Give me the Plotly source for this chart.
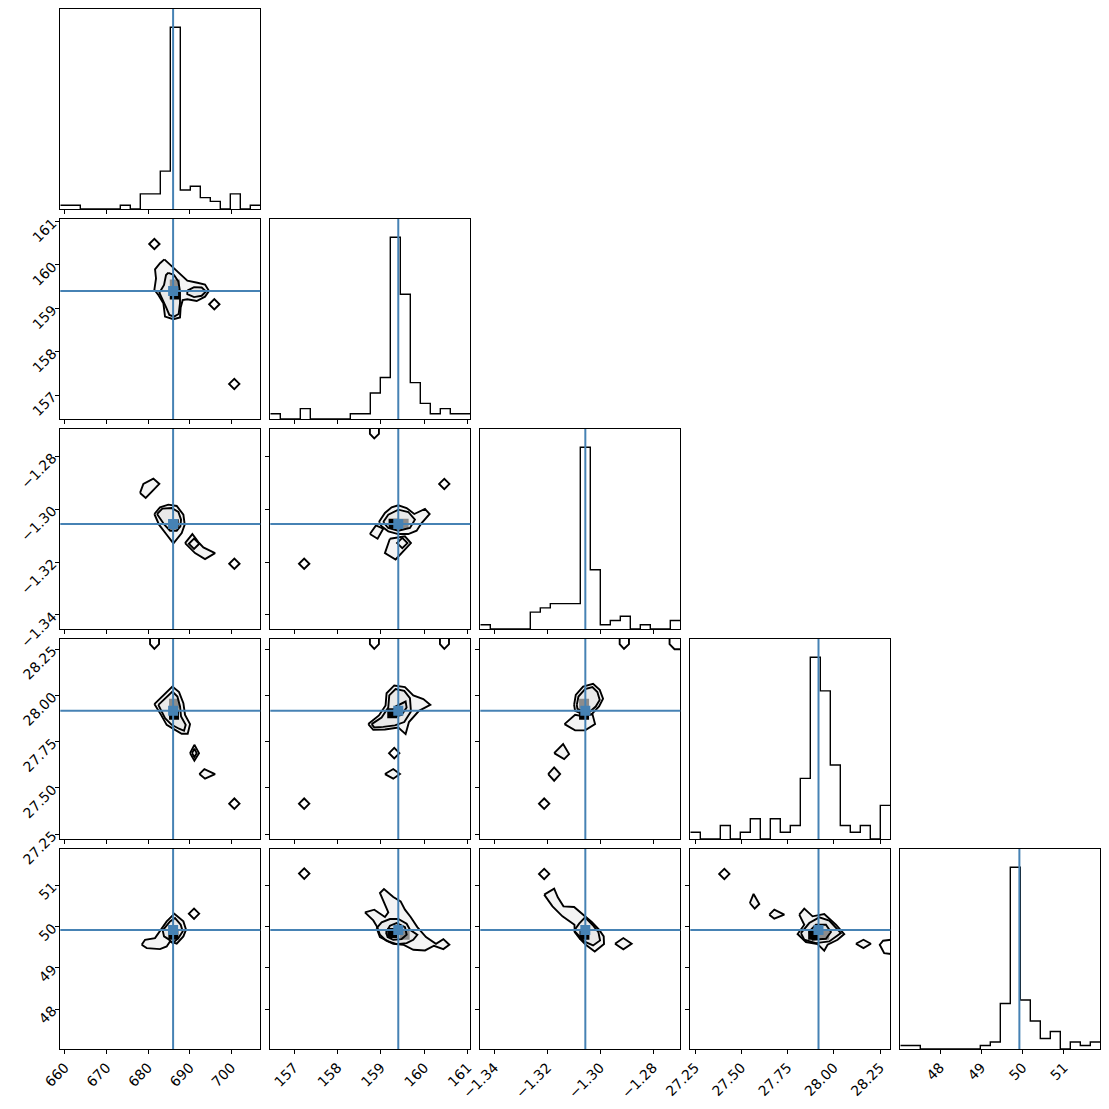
import numpy as np
import plotly.graph_objects as go

# ---------------- data ----------------
TRUTHS = [686.0, 159.40, -1.3056, 27.917, 49.92]
RANGES = [[658.9, 706.95], [156.45, 161.06], [-1.3453, -1.2697], [27.224, 28.305], [47.036, 51.88]]
TICKS = [[660, 670, 680, 690, 700],
         [157, 158, 159, 160, 161],
         [-1.34, -1.32, -1.30, -1.28],
         [27.25, 27.50, 27.75, 28.00, 28.25],
         [48, 49, 50, 51]]
TICKTEXT = [["660", "670", "680", "690", "700"],
            ["157", "158", "159", "160", "161"],
            ["\u22121.34", "\u22121.32", "\u22121.30", "\u22121.28"],
            ["27.25", "27.50", "27.75", "28.00", "28.25"],
            ["48", "49", "50", "51"]]

HIST_P0 = [1, 1, 0, 0, 0, 0, 1, 0, 4, 4, 10, 48, 5, 6, 3, 2, 0, 4, 0, 1]
HIST_P1 = [1, 0, 0, 2, 0, 0, 0, 0, 1, 1, 5, 8, 35, 24, 7, 3, 1, 2, 1, 1]
HIST_P2 = [1, 0, 0, 0, 0, 4, 5, 6, 6, 6, 43, 14, 1, 2, 3, 0, 1, 0, 0, 2]
HIST_P3 = [1, 0, 0, 2, 0, 1, 3, 0, 3, 1, 2, 9, 27, 22, 11, 2, 1, 2, 0, 5]
HIST_P4 = [1, 1, 0, 0, 0, 0, 0, 0, 1, 2, 13, 52, 14, 8, 3, 5, 0, 2, 1, 2]
HISTS = [HIST_P0, HIST_P1, HIST_P2, HIST_P3, HIST_P4]

# closed contour polygons per panel (row, col) -> x = param col, y = param row
CONT_1_0 = [
    [(683.90, 160.13), (686.22, 159.92), (687.66, 159.79), (689.42, 159.64), (691.83, 159.59), (693.67, 159.55),
     (694.63, 159.40), (693.67, 159.27), (691.67, 159.17), (689.42, 159.21), (688.30, 159.19), (687.82, 159.02),
     (687.66, 158.79), (686.06, 158.75), (684.06, 158.81), (683.66, 159.12), (682.46, 159.31), (681.50, 159.43),
     (681.90, 159.69), (681.66, 159.90), (682.86, 160.04)],
    [(684.86, 159.82), (686.22, 159.77), (687.26, 159.62), (687.66, 159.39), (687.66, 159.12), (687.34, 158.87),
     (686.22, 158.81), (685.10, 158.85), (684.30, 159.03), (683.50, 159.20), (682.70, 159.36), (683.82, 159.54),
     (684.30, 159.77)],
    [(689.42, 159.41), (691.03, 159.49), (692.86, 159.48), (693.91, 159.39), (692.86, 159.29), (691.03, 159.26),
     (689.42, 159.33)],
]
CONT_2_0 = [
    [(678.06, -1.29387), (678.86, -1.29046), (681.26, -1.28844), (682.70, -1.29046), (679.42, -1.29577)],
    [(681.50, -1.30183), (682.86, -1.29930), (684.86, -1.29829), (686.87, -1.29880), (688.47, -1.30208),
     (688.79, -1.30587), (688.07, -1.30903), (686.07, -1.31294), (684.47, -1.30966), (682.62, -1.30587)],
    [(682.14, -1.30183), (683.42, -1.29981), (685.67, -1.29955), (687.27, -1.30107), (687.91, -1.30398),
     (687.75, -1.30650), (686.87, -1.30814), (685.27, -1.30814), (683.90, -1.30587)],
    [(688.87, -1.31282), (690.63, -1.30941), (692.07, -1.31244), (693.27, -1.31446), (696.08, -1.31661),
     (693.67, -1.31888), (691.27, -1.31661)],
]
CONT_2_1 = [
    [(158.954, -1.30486), (159.092, -1.30145), (159.246, -1.29930), (159.400, -1.29855), (159.592, -1.29956),
     (159.769, -1.30183), (160.015, -1.29993), (160.123, -1.30183), (159.938, -1.30524), (159.823, -1.30814),
     (159.631, -1.30941), (159.400, -1.30941), (159.169, -1.30840), (159.015, -1.30650)],
    [(159.053, -1.30486), (159.169, -1.30208), (159.400, -1.30019), (159.631, -1.30107), (159.784, -1.30398),
     (159.669, -1.30713), (159.400, -1.30814), (159.169, -1.30713)],
    [(158.746, -1.30941), (158.885, -1.30612), (159.053, -1.30738), (158.923, -1.31117)],
    [(159.207, -1.31117), (159.092, -1.31661), (159.338, -1.31901), (159.692, -1.31281), (159.553, -1.31029)],
]
CONT_3_0 = [
    [(681.50, 27.953), (683.66, 28.003), (685.83, 28.048), (687.43, 28.018), (688.47, 27.958), (688.87, 27.895),
     (690.07, 27.845), (689.51, 27.793), (688.07, 27.793), (686.47, 27.814), (684.46, 27.841), (683.10, 27.895)],
    [(682.46, 27.949), (684.30, 27.989), (685.83, 28.021), (687.03, 27.994), (687.67, 27.940), (687.91, 27.886),
     (689.03, 27.841), (688.63, 27.809), (687.43, 27.820), (685.67, 27.841), (684.06, 27.877)],
    [(690.07, 27.688), (691.11, 27.733), (692.23, 27.688), (691.11, 27.647)],
    [(690.55, 27.688), (691.11, 27.712), (691.67, 27.688), (691.11, 27.667)],
    [(692.31, 27.575), (693.51, 27.602), (696.08, 27.575), (693.67, 27.550)],
]
CONT_3_1 = [
    [(158.708, 27.845), (158.954, 27.892), (159.107, 27.946), (159.130, 28.012), (159.307, 28.054),
     (159.554, 28.045), (159.746, 28.000), (159.977, 27.980), (160.138, 27.949), (159.877, 27.917),
     (159.646, 27.856), (159.569, 27.791), (159.400, 27.827), (159.092, 27.816), (158.823, 27.814)],
    [(158.785, 27.845), (159.015, 27.881), (159.169, 27.935), (159.192, 28.000), (159.338, 28.034),
     (159.538, 28.025), (159.669, 27.985), (159.692, 27.913), (159.538, 27.856), (159.323, 27.838),
     (159.054, 27.830), (158.846, 27.827)],
    [(159.246, 27.899), (159.338, 27.940), (159.569, 27.967), (159.592, 27.935), (159.477, 27.895),
     (159.323, 27.886)],
    [(159.092, 27.575), (159.284, 27.602), (159.438, 27.575), (159.284, 27.550)],
]
CONT_3_2 = [
    [(-1.30984, 27.949), (-1.30921, 28.003), (-1.30644, 28.048), (-1.30267, 28.063), (-1.30016, 28.030),
     (-1.29890, 27.982), (-1.30041, 27.940), (-1.30318, 27.899), (-1.30606, 27.895), (-1.30946, 27.917)],
    [(-1.30883, 27.949), (-1.30820, 27.994), (-1.30569, 28.034), (-1.30292, 28.045), (-1.30104, 28.018),
     (-1.30016, 27.976), (-1.30167, 27.940), (-1.30380, 27.913), (-1.30606, 27.910), (-1.30858, 27.928)],
    [(-1.31348, 27.845), (-1.30946, 27.895), (-1.30606, 27.886), (-1.30292, 27.899), (-1.30192, 27.845),
     (-1.30569, 27.811), (-1.30946, 27.811)],
    [(-1.31738, 27.688), (-1.31399, 27.737), (-1.31173, 27.683), (-1.31361, 27.656)],
    [(-1.31964, 27.575), (-1.31738, 27.611), (-1.31512, 27.575), (-1.31738, 27.539)],
]
CONT_4_0 = [
    [(678.45, 49.561), (679.26, 49.682), (681.66, 49.722), (683.26, 49.941), (684.46, 50.127), (686.30, 50.313),
     (688.47, 50.127), (689.11, 49.925), (688.47, 49.763), (686.87, 49.585), (685.26, 49.642), (684.46, 49.520),
     (682.86, 49.455), (679.66, 49.480)],
    [(683.50, 49.909), (685.26, 50.127), (686.46, 50.208), (687.83, 50.046), (688.31, 49.884), (687.27, 49.722),
     (685.90, 49.601), (684.86, 49.698), (683.82, 49.763)],
]
CONT_4_1 = [
    [(158.631, 50.345), (158.847, 50.410), (159.093, 50.232), (159.170, 50.345), (158.977, 50.815),
     (159.070, 50.912), (159.285, 50.718), (159.454, 50.612), (159.554, 50.410), (159.685, 50.232),
     (159.839, 49.989), (160.039, 49.747), (160.269, 49.585), (160.439, 49.698), (160.577, 49.561),
     (160.439, 49.456), (160.223, 49.536), (160.016, 49.423), (159.746, 49.439), (159.516, 49.561),
     (159.285, 49.585), (159.116, 49.666), (158.977, 49.803), (158.916, 49.989), (158.824, 50.151)],
    [(158.901, 49.965), (159.016, 50.103), (159.208, 50.184), (159.400, 50.184), (159.593, 50.070),
     (159.670, 49.925), (159.839, 49.803), (159.746, 49.682), (159.593, 49.601), (159.362, 49.577),
     (159.170, 49.642), (158.977, 49.747)],
    [(159.116, 49.860), (159.208, 50.022), (159.362, 50.087), (159.554, 49.989), (159.593, 49.803),
     (159.477, 49.698), (159.285, 49.682), (159.154, 49.747)],
]
CONT_4_2 = [
    [(-1.32115, 50.775), (-1.31738, 50.920), (-1.31600, 50.710), (-1.31386, 50.491), (-1.30984, 50.475),
     (-1.30644, 50.289), (-1.30318, 50.111), (-1.30041, 49.925), (-1.29865, 49.763), (-1.29853, 49.577),
     (-1.30204, 49.399), (-1.30544, 49.561), (-1.30770, 49.707), (-1.30959, 49.868), (-1.30971, 50.046),
     (-1.31424, 50.249), (-1.31801, 50.491)],
    [(-1.30984, 49.901), (-1.30795, 50.071), (-1.30569, 50.224), (-1.30293, 50.046), (-1.30066, 49.868),
     (-1.30003, 49.666), (-1.30267, 49.545), (-1.30607, 49.642)],
    [(-1.29438, 49.585), (-1.29123, 49.723), (-1.28809, 49.585), (-1.29123, 49.448)],
]
CONT_4_3 = [
    [(27.546, 50.572), (27.566, 50.791), (27.597, 50.548), (27.572, 50.435)],
    [(27.651, 50.289), (27.678, 50.410), (27.732, 50.289), (27.678, 50.192)],
    [(27.813, 50.289), (27.840, 50.435), (27.885, 50.249), (27.948, 50.305), (28.011, 50.046), (28.056, 49.820),
     (28.020, 49.682), (27.966, 49.561), (27.948, 49.415), (27.912, 49.577), (27.849, 49.626), (27.804, 49.820),
     (27.840, 50.046)],
    [(27.822, 49.844), (27.867, 50.087), (27.921, 50.224), (27.975, 50.144), (28.038, 49.844), (27.975, 49.642),
     (27.903, 49.601), (27.840, 49.682)],
    [(27.867, 49.885), (27.903, 50.046), (27.957, 50.046), (27.984, 49.868), (27.957, 49.707), (27.885, 49.682)],
    [(28.119, 49.585), (28.160, 49.682), (28.200, 49.585), (28.160, 49.480)],
]
CONTOURS = {(1, 0): CONT_1_0, (2, 0): CONT_2_0, (2, 1): CONT_2_1, (3, 0): CONT_3_0, (3, 1): CONT_3_1,
            (3, 2): CONT_3_2, (4, 0): CONT_4_0, (4, 1): CONT_4_1, (4, 2): CONT_4_2, (4, 3): CONT_4_3}

# contour pieces cut by the panel edge
OPEN_CONTOURS = {
    (2, 1): [[(158.746, -1.2679), (158.746, -1.27152), (158.846, -1.27328), (158.954, -1.27152), (158.954, -1.2679)]],
    (3, 0): [[(680.46, 28.33), (680.46, 28.277), (681.50, 28.252), (682.62, 28.277), (682.62, 28.33)]],
    (3, 1): [[(158.746, 28.33), (158.746, 28.277), (158.846, 28.252), (158.954, 28.277), (158.954, 28.33)],
             [(160.361, 28.33), (160.361, 28.277), (160.461, 28.252), (160.569, 28.277), (160.569, 28.33)]],
    (3, 2): [[(-1.29262, 28.33), (-1.29262, 28.277), (-1.29098, 28.252), (-1.28910, 28.277), (-1.28910, 28.33)],
             [(-1.27376, 28.33), (-1.27376, 28.277), (-1.27188, 28.250), (-1.26899, 28.250)]],
    (4, 3): [[(28.31, 49.682), (28.266, 49.658), (28.248, 49.561), (28.272, 49.359), (28.31, 49.335)]],
}

# single-bin contour islands (small diamonds)
ISLANDS = {
    (1, 0): [(681.5, 160.484), (695.9, 159.094), (700.7, 157.258)],
    (2, 0): [(691.03, -1.31307), (700.72, -1.32065)],
    (2, 1): [(160.461, -1.29046), (157.231, -1.32065), (159.492, -1.31281)],
    (3, 0): [(700.72, 27.415)],
    (3, 1): [(159.307, 27.688), (157.231, 27.415)],
    (3, 2): [(-1.32115, 27.415)],
    (4, 0): [(691.03, 50.313)],
    (4, 1): [(157.232, 51.284)],
    (4, 2): [(-1.32115, 51.276)],
    (4, 3): [(27.408, 51.276)],
}

# densest 2-D histogram cells
DARK_CELLS = {(1, 0): (686.4, 159.32), (2, 0): (686.15, -1.30574), (2, 1): (159.292, -1.30549),
              (3, 0): (686.23, 27.895), (3, 1): (159.261, 27.904), (3, 2): (-1.30607, 27.895),
              (4, 0): (686.06, 49.803), (4, 1): (159.262, 49.844), (4, 2): (-1.30594, 49.804),
              (4, 3): (27.888, 49.804)}
MID_CELLS = {(1, 0): (686.4, 159.55), (2, 1): (159.523, -1.30549), (3, 0): (686.23, 27.955),
             (3, 2): (-1.30607, 27.955), (4, 1): (159.547, 49.803), (4, 3): (27.948, 49.804)}

# ---------------- figure ----------------
N = 5
W = H = 1109
LEFT0, TOP0, SIZE, STEP = 60.3, 9.0, 200.0, 210.0
BLUE = "#4682b4"
FONT = dict(family="DejaVu Sans", size=14, color="black")
CLW = 1.9

fig = go.Figure()
layout = dict(width=W, height=H, margin=dict(l=0, r=0, t=0, b=0, autoexpand=False),
              paper_bgcolor="white", plot_bgcolor="white", showlegend=False)
shapes = []


def ax_id(i, j):
    return i * N + j + 1


def xname(k):
    return "x" if k == 1 else f"x{k}"


def yname(k):
    return "y" if k == 1 else f"y{k}"


for i in range(N):
    for j in range(i + 1):
        k = ax_id(i, j)
        x0 = (LEFT0 + j * STEP) / W
        x1 = (LEFT0 + j * STEP + SIZE) / W
        y1 = 1 - (TOP0 + i * STEP) / H
        y0 = 1 - (TOP0 + i * STEP + SIZE) / H
        xa = dict(domain=[x0, x1], range=RANGES[j], anchor=yname(k), showgrid=False, zeroline=False,
                  showline=True, mirror=True, linecolor="black", linewidth=1, automargin=False,
                  ticks="outside", ticklen=4, tickwidth=1, tickcolor="black",
                  tickvals=TICKS[j], ticktext=TICKTEXT[j], tickangle=-45,
                  showticklabels=(i == N - 1), tickfont=FONT)
        if i == j:
            ymax = 1.1 * max(HISTS[i])
            ya = dict(domain=[y0, y1], range=[0, ymax], anchor=xname(k), showgrid=False, zeroline=False,
                      showline=True, mirror=True, linecolor="black", linewidth=1, automargin=False,
                      ticks="", showticklabels=False)
        else:
            ya = dict(domain=[y0, y1], range=RANGES[i], anchor=xname(k), showgrid=False, zeroline=False,
                      showline=True, mirror=True, linecolor="black", linewidth=1, automargin=False,
                      ticks="outside", ticklen=4, tickwidth=1, tickcolor="black",
                      tickvals=TICKS[i], ticktext=TICKTEXT[i], tickangle=-45,
                      showticklabels=(j == 0), tickfont=FONT)
        layout["xaxis" if k == 1 else f"xaxis{k}"] = xa
        layout["yaxis" if k == 1 else f"yaxis{k}"] = ya

        if i == j:
            counts = HISTS[i]
            edges = np.linspace(RANGES[i][0], RANGES[i][1], len(counts) + 1)
            fig.add_trace(go.Scatter(x=list(edges), y=list(counts) + [counts[-1]], mode="lines",
                                     line=dict(color="black", width=1.4, shape="hv"),
                                     xaxis=xname(k), yaxis=yname(k), hoverinfo="skip"))
            shapes.append(dict(type="line", xref=xname(k), yref=f"{yname(k)} domain",
                               x0=TRUTHS[i], x1=TRUTHS[i], y0=0, y1=1,
                               line=dict(color=BLUE, width=2)))
            continue

        # filled density levels
        for poly in CONTOURS.get((i, j), []):
            xs = [p[0] for p in poly] + [poly[0][0]]
            ys = [p[1] for p in poly] + [poly[0][1]]
            fig.add_trace(go.Scatter(x=xs, y=ys, mode="lines", fill="toself",
                                     fillcolor="rgba(0,0,0,0.045)", line=dict(width=0),
                                     xaxis=xname(k), yaxis=yname(k), hoverinfo="skip"))
        if (i, j) in MID_CELLS:
            cx, cy = MID_CELLS[(i, j)]
            fig.add_trace(go.Scatter(x=[cx], y=[cy], mode="markers",
                                     marker=dict(symbol="square", size=10, color="#8c8c8c"),
                                     xaxis=xname(k), yaxis=yname(k), hoverinfo="skip"))
        if (i, j) in DARK_CELLS:
            cx, cy = DARK_CELLS[(i, j)]
            fig.add_trace(go.Scatter(x=[cx], y=[cy], mode="markers",
                                     marker=dict(symbol="square", size=10, color="black"),
                                     xaxis=xname(k), yaxis=yname(k), hoverinfo="skip"))
        # contour lines
        for poly in CONTOURS.get((i, j), []):
            xs = [p[0] for p in poly] + [poly[0][0]]
            ys = [p[1] for p in poly] + [poly[0][1]]
            fig.add_trace(go.Scatter(x=xs, y=ys, mode="lines", line=dict(color="black", width=CLW),
                                     xaxis=xname(k), yaxis=yname(k), hoverinfo="skip"))
        for line in OPEN_CONTOURS.get((i, j), []):
            fig.add_trace(go.Scatter(x=[p[0] for p in line], y=[p[1] for p in line], mode="lines",
                                     line=dict(color="black", width=CLW),
                                     xaxis=xname(k), yaxis=yname(k), hoverinfo="skip"))
        isl = ISLANDS.get((i, j), [])
        if isl:
            fig.add_trace(go.Scatter(x=[p[0] for p in isl], y=[p[1] for p in isl], mode="markers",
                                     marker=dict(symbol="diamond-open", size=8,
                                                 line=dict(color="black", width=CLW), color="black"),
                                     xaxis=xname(k), yaxis=yname(k), hoverinfo="skip"))
        # truth lines + marker
        shapes.append(dict(type="line", xref=xname(k), yref=f"{yname(k)} domain",
                           x0=TRUTHS[j], x1=TRUTHS[j], y0=0, y1=1, line=dict(color=BLUE, width=2)))
        shapes.append(dict(type="line", xref=f"{xname(k)} domain", yref=yname(k),
                           x0=0, x1=1, y0=TRUTHS[i], y1=TRUTHS[i], line=dict(color=BLUE, width=2)))
        fig.add_trace(go.Scatter(x=[TRUTHS[j]], y=[TRUTHS[i]], mode="markers",
                                 marker=dict(symbol="square", size=10, color=BLUE),
                                 xaxis=xname(k), yaxis=yname(k), hoverinfo="skip"))

layout["shapes"] = shapes
fig.update_layout(**layout)
fig.write_html("out.html")
